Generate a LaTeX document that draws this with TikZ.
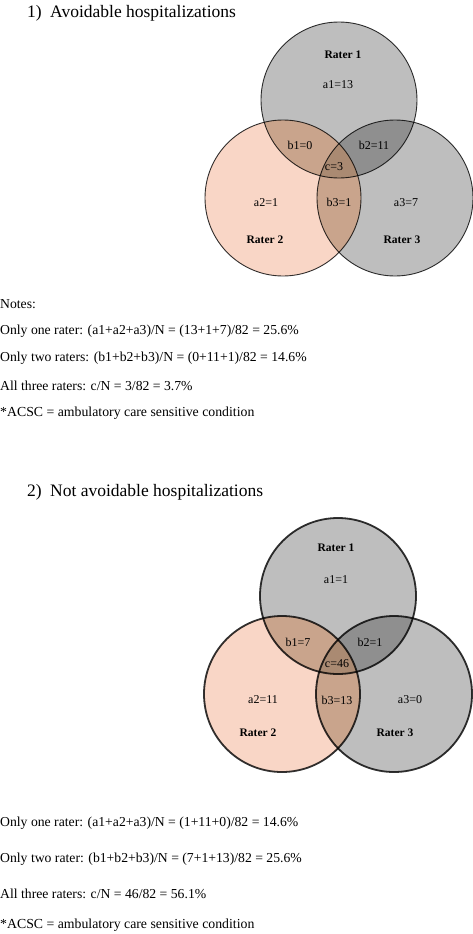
\documentclass[tikz,border=0pt]{standalone}
\usepackage{fontspec}
\setmainfont{Liberation Serif}
\usetikzlibrary{positioning}

\definecolor{ratergray}{RGB}{190,190,190}
\definecolor{ratersalmon}{RGB}{249,214,198}
\definecolor{twobrown}{RGB}{201,164,140}
\definecolor{twogray}{RGB}{143,143,143}
\definecolor{threebrown}{RGB}{170,138,114}

\newcommand{\vennr}{78pt}

\tikzset{
  ratername/.style={font=\fontsize{11.5}{13}\selectfont\bfseries},
  count/.style={font=\fontsize{12}{13}\selectfont},
  heading/.style={font=\fontsize{17.5}{20}\selectfont, anchor=west, inner sep=0pt},
  noteline/.style={font=\fontsize{13.7}{16}\selectfont, anchor=west, inner sep=0pt},
  footline/.style={font=\fontsize{13.8}{16}\selectfont, anchor=west, inner sep=0pt},
  rim/.style={draw=black, draw opacity=0.8}
}

\begin{document}
\begin{tikzpicture}[x=1pt,y=-1pt]
  \useasboundingbox[fill=white] (0,0) rectangle (473,934);

  % centres of the circles
  \coordinate (A1) at (339,100);
  \coordinate (A2) at (283,198);
  \coordinate (A3) at (395,198);
  \coordinate (B1) at (338,596);
  \coordinate (B2) at (282,694);
  \coordinate (B3) at (394,694);

  % 1) avoidable
  \node[heading] (num1) at (27,13) {1)};
  \node[heading] (title1) at (50,13) {Avoidable hospitalizations};

  \fill[ratergray] (A1) circle[radius=\vennr];
  \fill[ratergray] (A3) circle[radius=\vennr];
  \fill[ratersalmon] (A2) circle[radius=\vennr];
  \begin{scope}
    \clip (A1) circle[radius=\vennr];
    \fill[twobrown] (A2) circle[radius=\vennr];
    \fill[twogray] (A3) circle[radius=\vennr];
  \end{scope}
  \begin{scope}
    \clip (A2) circle[radius=\vennr];
    \fill[twobrown] (A3) circle[radius=\vennr];
  \end{scope}
  \begin{scope}
    \clip (A1) circle[radius=\vennr];
    \clip (A2) circle[radius=\vennr];
    \fill[threebrown] (A3) circle[radius=\vennr];
  \end{scope}
  \draw[rim, line width=0.9pt] (A1) circle[radius=\vennr];
  \draw[rim, line width=0.9pt] (A2) circle[radius=\vennr];
  \draw[rim, line width=0.9pt] (A3) circle[radius=\vennr];

  \node[ratername] (r1a) at (343,55) {Rater 1};
  \node[count] (a1a) at (338,85) {a1=13};
  \node[count] (b1a) at (300,145) {b1=0};
  \node[count] (b2a) at (374,145) {b2=11};
  \node[count] (ca) at (334,167) {c=3};
  \node[count] (a2a) at (266,203) {a2=1};
  \node[count] (b3a) at (339,202) {b3=1};
  \node[count] (a3a) at (406,203) {a3=7};
  \node[ratername] (r2a) at (265,240) {Rater 2};
  \node[ratername] (r3a) at (402,240) {Rater 3};

  \node[noteline] (notes) at (0,304) {Notes:};
  \node[noteline] (onea) at (0,331) {Only one rater: (a1+a2+a3)/N = (13+1+7)/82 = 25.6\%};
  \node[noteline] (twoa) at (0,358) {Only two raters: (b1+b2+b3)/N = (0+11+1)/82 = 14.6\%};
  \node[noteline] (threea) at (0,386) {All three raters: c/N = 3/82 = 3.7\%};
  \node[footline] (acsca) at (0,413) {*ACSC = ambulatory care sensitive condition};

  % 2) not avoidable
  \node[heading] (num2) at (27,492) {2)};
  \node[heading] (title2) at (50,492) {Not avoidable hospitalizations};

  \fill[ratergray] (B1) circle[radius=\vennr];
  \fill[ratergray] (B3) circle[radius=\vennr];
  \fill[ratersalmon] (B2) circle[radius=\vennr];
  \begin{scope}
    \clip (B1) circle[radius=\vennr];
    \fill[twobrown] (B2) circle[radius=\vennr];
    \fill[twogray] (B3) circle[radius=\vennr];
  \end{scope}
  \begin{scope}
    \clip (B2) circle[radius=\vennr];
    \fill[twobrown] (B3) circle[radius=\vennr];
  \end{scope}
  \begin{scope}
    \clip (B1) circle[radius=\vennr];
    \clip (B2) circle[radius=\vennr];
    \fill[threebrown] (B3) circle[radius=\vennr];
  \end{scope}
  \draw[rim, line width=1.8pt] (B1) circle[radius=\vennr];
  \draw[rim, line width=1.8pt] (B2) circle[radius=\vennr];
  \draw[rim, line width=1.8pt] (B3) circle[radius=\vennr];

  \node[ratername] (r1b) at (336,548) {Rater 1};
  \node[count] (a1b) at (336,580) {a1=1};
  \node[count] (b1b) at (298,642) {b1=7};
  \node[count] (b2b) at (370,642) {b2=1};
  \node[count] (cb) at (337,664) {c=46};
  \node[count] (a2b) at (263,700) {a2=11};
  \node[count] (b3b) at (337,700) {b3=13};
  \node[count] (a3b) at (410,700) {a3=0};
  \node[ratername] (r2b) at (258,733) {Rater 2};
  \node[ratername] (r3b) at (395,733) {Rater 3};

  \node[noteline] (oneb) at (0,823) {Only one rater: (a1+a2+a3)/N = (1+11+0)/82 = 14.6\%};
  \node[noteline] (twob) at (0,859) {Only two rater: (b1+b2+b3)/N = (7+1+13)/82 = 25.6\%};
  \node[noteline] (threeb) at (0,894) {All three raters: c/N = 46/82 = 56.1\%};
  \node[footline] (acscb) at (0,925) {*ACSC = ambulatory care sensitive condition};
\end{tikzpicture}
\end{document}
